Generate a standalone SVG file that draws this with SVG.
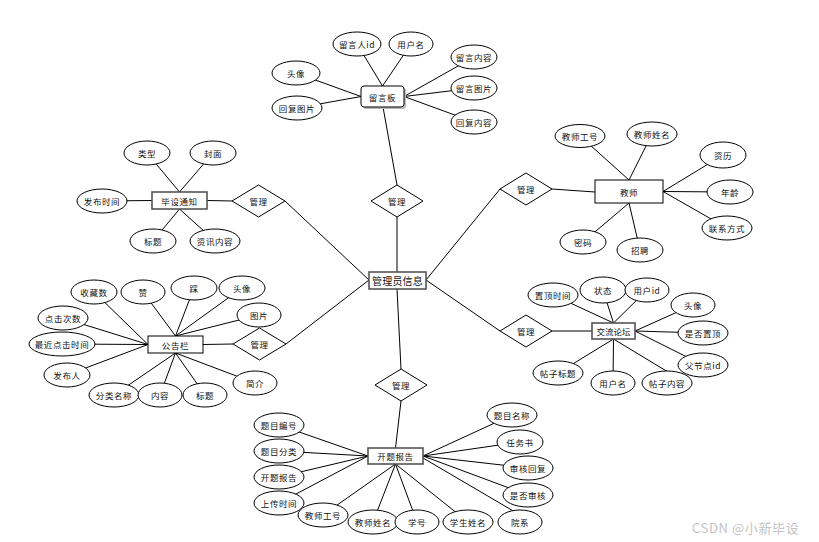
<svg xmlns="http://www.w3.org/2000/svg" width="819" height="542" viewBox="0 0 819 542">
<style>
.bg{fill:#fff}
.ln line{stroke:#000;stroke-width:1}
ellipse{fill:#fff;stroke:#000;stroke-width:1}
.ent{fill:#fff;stroke:#000;stroke-width:1}
.ent2{fill:#fff;stroke:#555;stroke-width:1.6}
.dia{fill:#fff;stroke:#000;stroke-width:1}
text{font-family:"Noto Sans CJK SC","Liberation Sans",sans-serif;font-size:8.5px;fill:#111;text-anchor:middle;dominant-baseline:central;letter-spacing:0.6px}
.big{font-size:10px;letter-spacing:0.2px}
.tight{letter-spacing:0px}
.wm{font-size:13px;fill:#c4c4c4;text-anchor:start;letter-spacing:0.6px}
</style>
<rect class="bg" x="0" y="0" width="819" height="542"/>
<g id="connectors" class="ln">
<line x1="383" y1="107" x2="397" y2="185"/>
<line x1="397" y1="217" x2="397" y2="272"/>
<line x1="426" y1="280" x2="500" y2="189"/>
<line x1="552" y1="189" x2="595" y2="192"/>
<line x1="369" y1="280" x2="285" y2="201"/>
<line x1="232" y1="201" x2="207" y2="200.5"/>
<line x1="369" y1="280" x2="286" y2="344"/>
<line x1="233" y1="344" x2="203" y2="344.5"/>
<line x1="426" y1="280" x2="500" y2="331"/>
<line x1="552" y1="331" x2="592" y2="331"/>
<line x1="397" y1="289" x2="401" y2="369"/>
<line x1="401" y1="401" x2="395.5" y2="448"/>
<line x1="382.5" y1="86" x2="357" y2="44"/>
<line x1="382.5" y1="86" x2="411" y2="44"/>
<line x1="361" y1="96.5" x2="296" y2="73"/>
<line x1="361" y1="96.5" x2="297" y2="108"/>
<line x1="404" y1="96.5" x2="474" y2="57"/>
<line x1="404" y1="96.5" x2="474" y2="88"/>
<line x1="404" y1="96.5" x2="474" y2="122"/>
<line x1="629" y1="180" x2="580" y2="136"/>
<line x1="629" y1="180" x2="652" y2="134"/>
<line x1="663" y1="191.5" x2="723" y2="155"/>
<line x1="663" y1="191.5" x2="730" y2="192"/>
<line x1="663" y1="191.5" x2="727" y2="228"/>
<line x1="629" y1="203" x2="583" y2="242"/>
<line x1="629" y1="203" x2="640" y2="250"/>
<line x1="179.5" y1="192" x2="147" y2="153"/>
<line x1="179.5" y1="192" x2="213" y2="153"/>
<line x1="152" y1="200.5" x2="102" y2="201"/>
<line x1="179.5" y1="209" x2="153" y2="241"/>
<line x1="179.5" y1="209" x2="215" y2="241"/>
<line x1="148" y1="344.5" x2="94" y2="292"/>
<line x1="148" y1="344.5" x2="63" y2="318"/>
<line x1="148" y1="344.5" x2="62" y2="344"/>
<line x1="148" y1="344.5" x2="67" y2="375"/>
<line x1="175.5" y1="336" x2="143" y2="292"/>
<line x1="175.5" y1="336" x2="194" y2="288"/>
<line x1="175.5" y1="336" x2="242" y2="288"/>
<line x1="175.5" y1="336" x2="259" y2="315"/>
<line x1="175.5" y1="353" x2="114" y2="395"/>
<line x1="175.5" y1="353" x2="160" y2="395"/>
<line x1="175.5" y1="353" x2="205" y2="395"/>
<line x1="175.5" y1="353" x2="255" y2="383"/>
<line x1="613.5" y1="323" x2="553" y2="295"/>
<line x1="613.5" y1="323" x2="603" y2="290"/>
<line x1="613.5" y1="323" x2="647" y2="290"/>
<line x1="635" y1="331" x2="693" y2="305"/>
<line x1="635" y1="331" x2="703" y2="333"/>
<line x1="635" y1="331" x2="703" y2="365"/>
<line x1="613.5" y1="339" x2="668" y2="372"/>
<line x1="613.5" y1="339" x2="613" y2="383"/>
<line x1="613.5" y1="339" x2="558" y2="373"/>
<line x1="368" y1="456" x2="279" y2="425"/>
<line x1="368" y1="456" x2="279" y2="451"/>
<line x1="368" y1="456" x2="279" y2="477"/>
<line x1="368" y1="456" x2="279" y2="503"/>
<line x1="395.5" y1="464" x2="323" y2="515"/>
<line x1="395.5" y1="464" x2="373" y2="522"/>
<line x1="395.5" y1="464" x2="417" y2="522"/>
<line x1="395.5" y1="464" x2="468" y2="522"/>
<line x1="423" y1="458" x2="515" y2="512"/>
<line x1="423" y1="456" x2="528" y2="495"/>
<line x1="423" y1="456" x2="528" y2="468"/>
<line x1="423" y1="456" x2="520" y2="442"/>
<line x1="423" y1="456" x2="512" y2="415"/>
</g>
<g id="admin"><rect class="ent2" x="369" y="272" width="57" height="17"/><text class="big" x="397.5" y="280.5">管理员信息</text></g>
<g id="rel1"><polygon class="dia" points="397,185 423,201 397,217 371,201"/><text x="397" y="201">管理</text></g>
<g id="rel2"><polygon class="dia" points="526,173 552,189 526,205 500,189"/><text x="526" y="189">管理</text></g>
<g id="rel3"><polygon class="dia" points="258.5,185 285,201 258.5,217 232,201"/><text x="258.5" y="201">管理</text></g>
<g id="rel4"><polygon class="dia" points="259.5,328 286,344 259.5,360 233,344"/><text x="259.5" y="344">管理</text></g>
<g id="rel5"><polygon class="dia" points="526,315 552,331 526,347 500,331"/><text x="526" y="331">管理</text></g>
<g id="rel6"><polygon class="dia" points="401,369 427,385 401,401 375,385"/><text x="401" y="385">管理</text></g>
<g id="board">
<rect x="363" y="88" width="43" height="21" rx="3" fill="#bbb"/>
<rect class="ent" x="361" y="86" width="43" height="21" rx="3" stroke-width="1.3"/><text x="382.5" y="96.5">留言板</text>
<ellipse cx="357" cy="44" rx="24" ry="12"/><text x="357" y="44">留言人id</text>
<ellipse cx="411" cy="44" rx="22" ry="12"/><text x="411" y="44">用户名</text>
<ellipse cx="296" cy="73" rx="24" ry="12"/><text x="296" y="73">头像</text>
<ellipse cx="297" cy="108" rx="25" ry="12"/><text x="297" y="108">回复图片</text>
<ellipse cx="474" cy="57" rx="23" ry="12"/><text x="474" y="57">留言内容</text>
<ellipse cx="474" cy="88" rx="23" ry="12"/><text x="474" y="88">留言图片</text>
<ellipse cx="474" cy="122" rx="23" ry="12"/><text x="474" y="122">回复内容</text>
</g>
<g id="teacher">
<rect class="ent" x="595" y="180" width="68" height="23"/><text x="629" y="191.5">教师</text>
<ellipse cx="580" cy="136" rx="25" ry="11.5"/><text x="580" y="136">教师工号</text>
<ellipse cx="652" cy="134" rx="25" ry="12"/><text x="652" y="134">教师姓名</text>
<ellipse cx="723" cy="155" rx="23" ry="13"/><text x="723" y="155">资历</text>
<ellipse cx="730" cy="192" rx="23" ry="12"/><text x="730" y="192">年龄</text>
<ellipse cx="727" cy="228" rx="25" ry="12"/><text x="727" y="228">联系方式</text>
<ellipse cx="583" cy="242" rx="23" ry="12"/><text x="583" y="242">密码</text>
<ellipse cx="640" cy="250" rx="23" ry="12"/><text x="640" y="250">招聘</text>
</g>
<g id="notice">
<rect class="ent2" x="152" y="192" width="55" height="17"/><text x="179.5" y="200.5">毕设通知</text>
<ellipse cx="147" cy="153" rx="23" ry="12"/><text x="147" y="153">类型</text>
<ellipse cx="213" cy="153" rx="23" ry="12"/><text x="213" y="153">封面</text>
<ellipse cx="102" cy="201" rx="25" ry="12"/><text x="102" y="201">发布时间</text>
<ellipse cx="153" cy="241" rx="23" ry="12"/><text x="153" y="241">标题</text>
<ellipse cx="215" cy="241" rx="25" ry="12"/><text x="215" y="241">资讯内容</text>
</g>
<g id="bulletin">
<rect class="ent" x="148" y="336" width="55" height="17"/><text x="175.5" y="344.5">公告栏</text>
<ellipse cx="94" cy="292" rx="23" ry="12"/><text x="94" y="292">收藏数</text>
<ellipse cx="143" cy="292" rx="22" ry="12"/><text x="143" y="292">赞</text>
<ellipse cx="194" cy="288" rx="23" ry="12"/><text x="194" y="288">踩</text>
<ellipse cx="242" cy="288" rx="23" ry="12"/><text x="242" y="288">头像</text>
<ellipse cx="259" cy="315" rx="22" ry="12"/><text x="259" y="315">图片</text>
<ellipse cx="63" cy="318" rx="25" ry="12"/><text x="63" y="318">点击次数</text>
<ellipse cx="62" cy="344" rx="33" ry="12"/><text x="62" y="344">最近点击时间</text>
<ellipse cx="67" cy="375" rx="23" ry="12"/><text x="67" y="375">发布人</text>
<ellipse cx="114" cy="395" rx="25" ry="12"/><text x="114" y="395">分类名称</text>
<ellipse cx="160" cy="395" rx="22" ry="12"/><text x="160" y="395">内容</text>
<ellipse cx="205" cy="395" rx="22" ry="12"/><text x="205" y="395">标题</text>
<ellipse cx="255" cy="383" rx="22" ry="12"/><text x="255" y="383">简介</text>
</g>
<g id="forum">
<rect class="ent2" x="592" y="323" width="43" height="16"/><text class="tight" x="613.5" y="331">交流论坛</text>
<ellipse cx="553" cy="295" rx="25" ry="12"/><text x="553" y="295">置顶时间</text>
<ellipse cx="603" cy="290" rx="23" ry="13"/><text x="603" y="290">状态</text>
<ellipse cx="647" cy="290" rx="22" ry="12"/><text x="647" y="290">用户id</text>
<ellipse cx="693" cy="305" rx="22" ry="12"/><text x="693" y="305">头像</text>
<ellipse cx="703" cy="333" rx="25" ry="12"/><text x="703" y="333">是否置顶</text>
<ellipse cx="703" cy="365" rx="25" ry="12"/><text x="703" y="365">父节点id</text>
<ellipse cx="667" cy="383" rx="25" ry="12"/><text x="667" y="383">帖子内容</text>
<ellipse cx="613" cy="383" rx="22" ry="12"/><text x="613" y="383">用户名</text>
<ellipse cx="558" cy="373" rx="25" ry="12"/><text x="558" y="373">帖子标题</text>
</g>
<g id="proposal">
<rect class="ent2" x="368" y="448" width="55" height="16"/><text x="395.5" y="456">开题报告</text>
<ellipse cx="279" cy="425" rx="25" ry="12"/><text x="279" y="425">题目编号</text>
<ellipse cx="279" cy="451" rx="25" ry="12"/><text x="279" y="451">题目分类</text>
<ellipse cx="279" cy="477" rx="25" ry="12"/><text x="279" y="477">开题报告</text>
<ellipse cx="279" cy="503" rx="25" ry="12"/><text x="279" y="503">上传时间</text>
<ellipse cx="323" cy="515" rx="25" ry="12"/><text x="323" y="515">教师工号</text>
<ellipse cx="373" cy="522" rx="25" ry="12"/><text x="373" y="522">教师姓名</text>
<ellipse cx="417" cy="522" rx="22" ry="12"/><text x="417" y="522">学号</text>
<ellipse cx="468" cy="522" rx="25" ry="12"/><text x="468" y="522">学生姓名</text>
<ellipse cx="520" cy="522" rx="22" ry="12"/><text x="520" y="522">院系</text>
<ellipse cx="528" cy="495" rx="25" ry="12"/><text x="528" y="495">是否审核</text>
<ellipse cx="528" cy="468" rx="25" ry="12"/><text x="528" y="468">审核回复</text>
<ellipse cx="520" cy="442" rx="23" ry="12"/><text x="520" y="442">任务书</text>
<ellipse cx="512" cy="415" rx="25" ry="12"/><text x="512" y="415">题目名称</text>
</g>
<text class="wm" x="692" y="527">CSDN @小新毕设</text>
</svg>
